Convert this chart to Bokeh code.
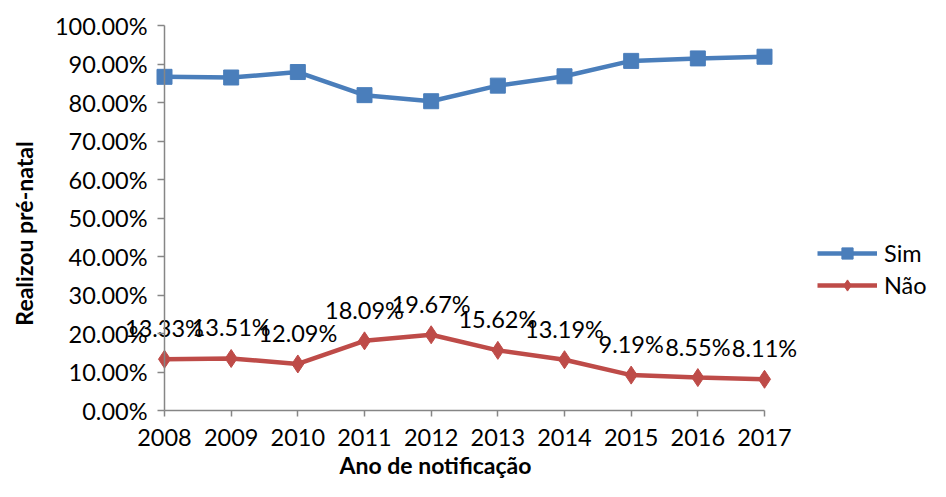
import math
from bokeh.plotting import figure
from bokeh.models import (ColumnDataSource, FixedTicker, PrintfTickFormatter, Legend,
                          LegendItem, Range1d, Label)
from bokeh.core.properties import value
from bokeh.embed import file_html
from bokeh.resources import INLINE

# ---- data ----
years = [2008, 2009, 2010, 2011, 2012, 2013, 2014, 2015, 2016, 2017]
year_labels = ["2008", "2009", "2010", "2011", "2012", "2013", "2014", "2015", "2016", "2017"]
sim = [86.67, 86.49, 87.91, 81.91, 80.33, 84.38, 86.81, 90.81, 91.45, 91.89]
nao = [13.33, 13.51, 12.09, 18.09, 19.67, 15.62, 13.19, 9.19, 8.55, 8.11]
nao_labels = ["13.33%", "13.51%", "12.09%", "18.09%", "19.67%", "15.62%", "13.19%", "9.19%", "8.55%", "8.11%"]
y_ticks = [0, 10, 20, 30, 40, 50, 60, 70, 80, 90, 100]
x_title = "Ano de notificação"
y_title = "Realizou pré-natal"

FONT = "Lato"
BLUE = "#4A7EBB"
RED = "#BE4B48"
AXIS_GRAY = "#868686"
LBL = "23.5px"
TTL = "23px"

W, H = 930, 481
# pixel geometry of the plot area inside the canvas
px_left, px_right = 164, 764      # x of 2008 and 2017
py_top, py_bottom = 25, 410       # y of 100% and 0%
xs = (px_right - px_left) / (years[-1] - years[0])
ys = (py_bottom - py_top) / 100.0

x_range = Range1d(years[0] - px_left / xs, years[-1] + (W - px_right) / xs)
y_range = Range1d(0 - (H - py_bottom) / ys, 100 + py_top / ys)

p = figure(width=W, height=H, output_backend="svg", toolbar_location=None,
           x_range=x_range, y_range=y_range,
           min_border_left=0, min_border_right=0, min_border_top=0, min_border_bottom=0)
p.outline_line_color = None
p.xgrid.visible = False
p.ygrid.visible = False
p.background_fill_color = "white"
p.border_fill_color = "white"

src_sim = ColumnDataSource(dict(x=years, y=sim))
src_nao = ColumnDataSource(dict(x=years, y=nao, lab=nao_labels))

l1 = p.line("x", "y", source=src_sim, line_color=BLUE, line_width=4.5)
m1 = p.scatter("x", "y", source=src_sim, marker="square", size=15, fill_color=BLUE, line_color=BLUE)
l2 = p.line("x", "y", source=src_nao, line_color=RED, line_width=4.5)
m2 = p.scatter("x", "y", source=src_nao, marker="diamond", size=18, fill_color=RED, line_color=RED)

p.text("x", "y", text="lab", source=src_nao, text_align="center", text_baseline="alphabetic",
       y_offset=-31, text_font=value(FONT), text_font_size=LBL, text_color="black")

# axes
xa = p.xaxis[0]
xa.fixed_location = 0
xa.bounds = (years[0], years[-1])
xa.ticker = FixedTicker(ticks=years)
xa.major_label_overrides = {y: l for y, l in zip(years, year_labels)}
xa.minor_tick_line_color = None
xa.major_tick_in = 0
xa.major_tick_out = 6
xa.axis_line_color = AXIS_GRAY
xa.major_tick_line_color = AXIS_GRAY
xa.axis_line_width = 1.5
xa.major_tick_line_width = 1.5
xa.major_label_text_font = FONT
xa.major_label_text_font_size = LBL
xa.major_label_text_color = "black"
xa.major_label_standoff = 12

ya = p.yaxis[0]
ya.fixed_location = years[0]
ya.bounds = (0, 100)
ya.ticker = FixedTicker(ticks=y_ticks)
ya.formatter = PrintfTickFormatter(format="%.2f%%")
ya.minor_tick_line_color = None
ya.major_tick_in = 0
ya.major_tick_out = 7
ya.axis_line_color = AXIS_GRAY
ya.major_tick_line_color = AXIS_GRAY
ya.axis_line_width = 1.5
ya.major_tick_line_width = 1.5
ya.major_label_text_font = FONT
ya.major_label_text_font_size = LBL
ya.major_label_text_color = "black"
ya.major_label_standoff = 10

# axis titles
p.add_layout(Label(x=435, y=17, x_units="screen", y_units="screen", text=x_title,
                   text_align="center", text_baseline="middle", text_font=FONT,
                   text_font_size=TTL, text_font_style="bold", text_color="black"))
p.add_layout(Label(x=23, y=H - 233, x_units="screen", y_units="screen", text=y_title,
                   angle=math.pi / 2, text_align="center", text_baseline="middle",
                   text_font=FONT, text_font_size=TTL, text_font_style="bold",
                   text_color="black"))

legend = Legend(items=[LegendItem(label="Sim", renderers=[l1, m1]),
                       LegendItem(label="Não", renderers=[l2, m2])],
                location=(817, 182), orientation="vertical",
                glyph_width=60, glyph_height=28, spacing=4, padding=0, margin=0,
                label_standoff=7, label_text_font=FONT, label_text_font_size=LBL,
                label_text_color="black", border_line_color=None, background_fill_alpha=0)
p.add_layout(legend)

open("out.html", "w").write(file_html(p, INLINE))
